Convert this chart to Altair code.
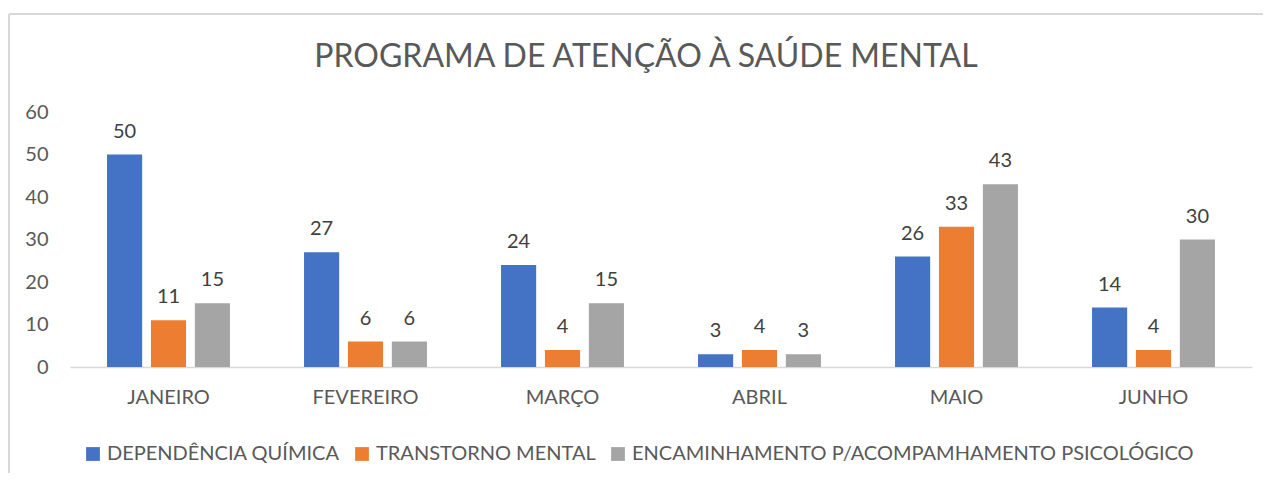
import altair as alt
import pandas as pd

months = ["JANEIRO", "FEVEREIRO", "MARÇO", "ABRIL", "MAIO", "JUNHO"]
series = ["DEPENDÊNCIA QUÍMICA", "TRANSTORNO MENTAL", "ENCAMINHAMENTO P/ACOMPAMHAMENTO PSICOLÓGICO"]
dep_quimica = [50, 27, 24, 3, 26, 14]
transtorno = [11, 6, 4, 4, 33, 4]
encaminhamento = [15, 6, 15, 3, 43, 30]
colors = ["#4472C4", "#ED7D31", "#A5A5A5"]
title_text = "PROGRAMA DE ATENÇÃO À SAÚDE MENTAL"

rows = []
for i, m in enumerate(months):
    for s, vals in zip(series, [dep_quimica, transtorno, encaminhamento]):
        rows.append({"mes": m, "serie": s, "valor": vals[i]})
df = pd.DataFrame(rows)

FONT = "Lato"
FS = 20

x = alt.X("mes:N", sort=months, title=None,
          scale=alt.Scale(paddingInner=0.376, paddingOuter=0.188),
          axis=alt.Axis(labelAngle=0, labelFontSize=FS, labelColor="#595959", labelFont=FONT, grid=False,
                        ticks=False, domain=True, domainColor="#D9D9D9", domainWidth=1.5, labelPadding=20))
xo = alt.XOffset("serie:N", sort=series, scale=alt.Scale(paddingInner=0.2, paddingOuter=0))
y = alt.Y("valor:Q", title=None, scale=alt.Scale(domain=[0, 60]),
          axis=alt.Axis(values=[0, 10, 20, 30, 40, 50, 60], grid=False, domain=False, ticks=False,
                        labelFontSize=FS, labelColor="#595959", labelFont=FONT, labelPadding=22))
color = alt.Color("serie:N", sort=series, scale=alt.Scale(domain=series, range=colors),
                  legend=alt.Legend(title=None, orient="none", direction="horizontal",
                                    legendX=13, legendY=332, symbolType="square", symbolSize=190,
                                    symbolStrokeWidth=0, labelFontSize=FS, labelColor="#595959",
                                    labelFont=FONT, columnPadding=12, labelOffset=4, labelLimit=700))

bars = alt.Chart(df).mark_bar().encode(x=x, xOffset=xo, y=y, color=color)
labels = alt.Chart(df).mark_text(baseline="alphabetic", dy=-17, fontSize=FS, color="#404040", font=FONT).encode(
    x=x, xOffset=xo, y=y, text="valor:Q")

one = pd.DataFrame({"t": [title_text]})
top_line = alt.Chart(one).mark_rule(color="#D9D9D9", strokeWidth=2).encode(
    x=alt.value(-61), x2=alt.value(1210), y=alt.value(-98))
left_line = alt.Chart(one).mark_rule(color="#D9D9D9", strokeWidth=2).encode(
    x=alt.value(-61), y=alt.value(-98), y2=alt.value(380))
title = alt.Chart(one).mark_text(fontSize=32, font=FONT, color="#595959", baseline="middle", align="center").encode(
    x=alt.value(576), y=alt.value(-55), text="t:N")

chart = alt.layer(top_line, left_line, title, bars, labels).properties(
    width=1182, height=255,
    background="white",
    autosize=alt.AutoSizeParams(type="none"),
    padding={"left": 62, "top": 104, "right": 11, "bottom": 106},
).configure_view(stroke=None, strokeWidth=0)

chart.save("out.html", embed_options={"renderer": "svg", "actions": False})
